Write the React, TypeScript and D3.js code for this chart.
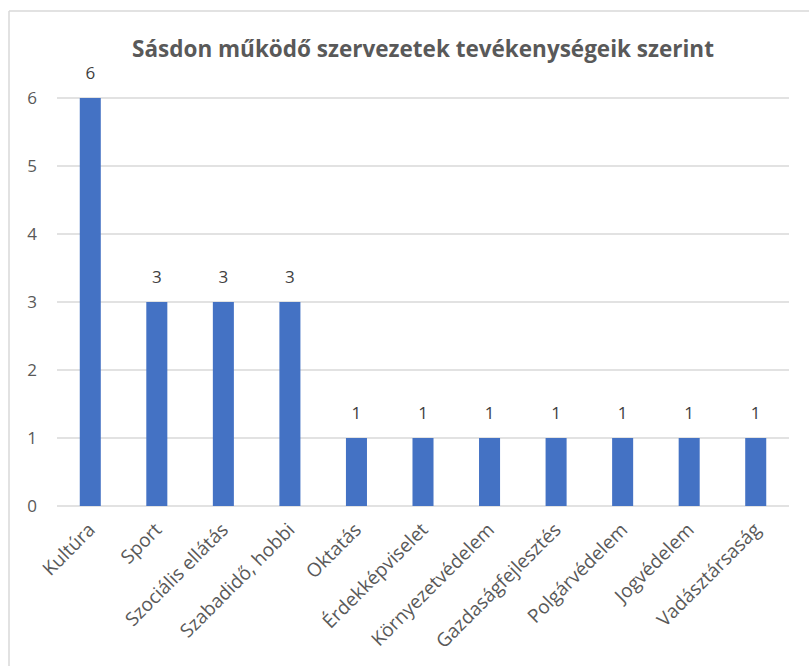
import React from "react";
import * as d3 from "d3";

const categories = [
  "Kultúra",
  "Sport",
  "Szociális ellátás",
  "Szabadidő, hobbi",
  "Oktatás",
  "Érdekképviselet",
  "Környezetvédelem",
  "Gazdaságfejlesztés",
  "Polgárvédelem",
  "Jogvédelem",
  "Vadásztársaság",
];
const values = [6, 3, 3, 3, 1, 1, 1, 1, 1, 1, 1];
const yTicks = [0, 1, 2, 3, 4, 5, 6];
const title = "Sásdon működő szervezetek tevékenységeik szerint";

const W = 809;
const H = 666;
const plotLeft = 57;
const plotRight = 789;
const plotTop = 98;
const plotBottom = 506;
const FONT = "'Open Sans', 'Noto Sans', sans-serif";
const TXT = "#595959";

export default function App() {
  const x = d3
    .scaleBand<string>()
    .domain(categories)
    .range([plotLeft, plotRight])
    .paddingInner(0.684)
    .paddingOuter(0.342);
  const y = d3.scaleLinear().domain([0, 6]).range([plotBottom, plotTop]);

  return (
    <svg
      width={W}
      height={H}
      style={{ position: "absolute", left: 0, top: 0, display: "block" }}
    >
      <rect x={0} y={0} width={W} height={H} fill="#fff" />
      <line x1={9} x2={W} y1={11} y2={11} stroke="#d9d9d9" strokeWidth={1.5} />
      <line x1={9} x2={9} y1={11} y2={H} stroke="#d9d9d9" strokeWidth={1.5} />
      <text
        x={(plotLeft + plotRight) / 2}
        y={57}
        textAnchor="middle"
        fontFamily={FONT}
        fontWeight="bold"
        fontSize={22.5}
        fill={TXT}
      >
        {title}
      </text>
      {yTicks.map((t) => (
        <g key={t}>
          <line
            x1={plotLeft}
            x2={plotRight}
            y1={y(t)}
            y2={y(t)}
            stroke="#d9d9d9"
            strokeWidth={1.3}
          />
          <text
            x={37}
            y={y(t) + 6}
            textAnchor="end"
            fontFamily={FONT}
            fontSize={17}
            fill={TXT}
          >
            {t}
          </text>
        </g>
      ))}
      {categories.map((c, i) => {
        const bx = x(c)!;
        const bw = x.bandwidth();
        const cx = bx + bw / 2;
        return (
          <g key={c}>
            <rect
              x={bx}
              y={y(values[i])}
              width={bw}
              height={plotBottom - y(values[i])}
              fill="#4472C4"
            />
            <text
              x={cx}
              y={y(values[i]) - 19}
              textAnchor="middle"
              fontFamily={FONT}
              fontSize={17}
              fill="#404040"
            >
              {values[i]}
            </text>
            <text
              transform={`translate(${cx + 6},${plotBottom + 25}) rotate(-45)`}
              textAnchor="end"
              fontFamily={FONT}
              fontSize={19}
              fill={TXT}
            >
              {c}
            </text>
          </g>
        );
      })}
    </svg>
  );
}
